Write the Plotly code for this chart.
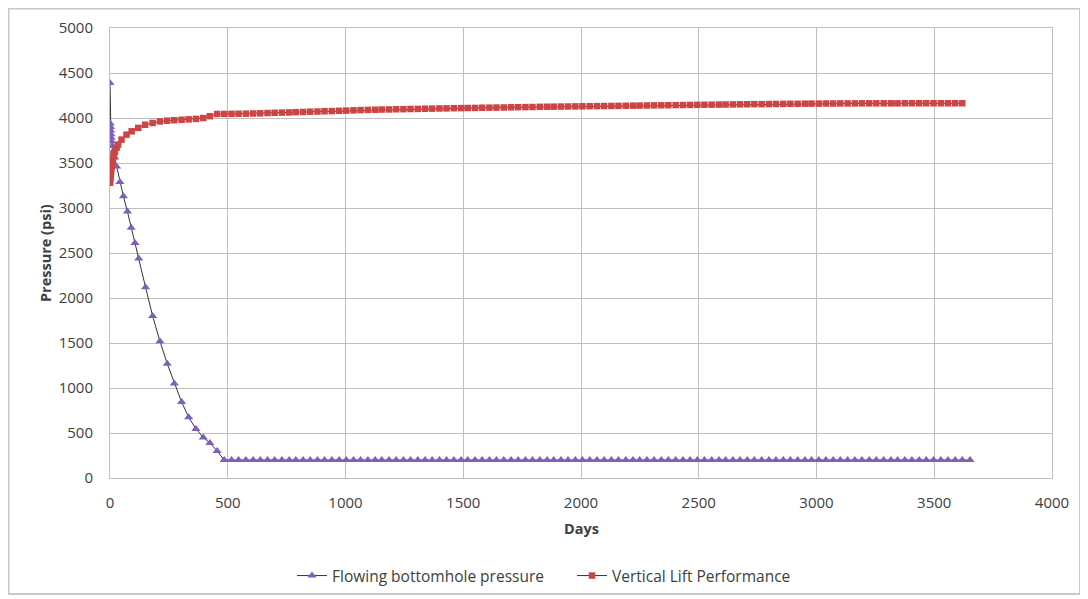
import plotly.graph_objects as go

# ---- data ----
fbhp_early_days = [0, 1, 2, 3, 4, 5, 7, 10, 14, 20, 28, 42, 57, 74, 90, 106, 122,
                   151, 181, 212, 243, 273, 304, 334, 365, 396, 424, 455]
fbhp_early_vals = [4390, 3940, 3900, 3860, 3820, 3780, 3740, 3690, 3630, 3560, 3460,
                   3290, 3130, 2960, 2780, 2610, 2440, 2120, 1800, 1520, 1270, 1050,
                   845, 675, 545, 450, 390, 300]

vlp_early_days = [0, 1, 2, 3, 4, 5, 6, 7, 9, 11, 14, 17, 21, 28, 35, 49, 70, 92, 120,
                  149, 181, 212, 243, 273, 304, 334, 365, 396, 424, 455]
vlp_early_vals = [3280, 3310, 3340, 3370, 3400, 3425, 3450, 3470, 3500, 3530, 3565,
                  3595, 3625, 3670, 3705, 3760, 3815, 3852, 3890, 3925, 3945, 3962,
                  3970, 3975, 3980, 3985, 3990, 4000, 4020, 4045]

monthly_days = [
    485, 516, 546, 577, 608, 638, 669, 699, 730,
    761, 789, 820, 850, 881, 911, 942, 973, 1003, 1034, 1064, 1095,
    1126, 1154, 1185, 1215, 1246, 1276, 1307, 1338, 1368, 1399, 1429, 1460,
    1491, 1519, 1550, 1580, 1611, 1641, 1672, 1703, 1733, 1764, 1794, 1825,
    1856, 1884, 1915, 1945, 1976, 2006, 2037, 2068, 2098, 2129, 2159, 2190,
    2221, 2249, 2280, 2310, 2341, 2371, 2402, 2433, 2463, 2494, 2524, 2555,
    2586, 2614, 2645, 2675, 2706, 2736, 2767, 2798, 2828, 2859, 2889, 2920,
    2951, 2979, 3010, 3040, 3071, 3101, 3132, 3163, 3193, 3224, 3254, 3285,
    3316, 3344, 3375, 3405, 3436, 3466, 3497, 3528, 3558, 3589, 3619,
]
fbhp_last_day = [3652]

fbhp_monthly_vals = [
    200, 200, 200, 200, 200, 200, 200, 200, 200,
    200, 200, 200, 200, 200, 200, 200, 200, 200, 200, 200, 200,
    200, 200, 200, 200, 200, 200, 200, 200, 200, 200, 200, 200,
    200, 200, 200, 200, 200, 200, 200, 200, 200, 200, 200, 200,
    200, 200, 200, 200, 200, 200, 200, 200, 200, 200, 200, 200,
    200, 200, 200, 200, 200, 200, 200, 200, 200, 200, 200, 200,
    200, 200, 200, 200, 200, 200, 200, 200, 200, 200, 200, 200,
    200, 200, 200, 200, 200, 200, 200, 200, 200, 200, 200, 200,
    200, 200, 200, 200, 200, 200, 200, 200, 200, 200, 200,
]
fbhp_last_val = [200]

vlp_monthly_vals = [
    4045, 4046, 4047, 4048, 4050, 4052, 4055, 4058, 4060,
    4062, 4065, 4067, 4070, 4072, 4075, 4077, 4080, 4082, 4085, 4088, 4090,
    4092, 4094, 4095, 4097, 4098, 4100, 4101, 4103, 4104, 4106, 4107, 4109,
    4110, 4111, 4112, 4114, 4115, 4116, 4117, 4119, 4120, 4121, 4122, 4124,
    4125, 4126, 4127, 4128, 4129, 4130, 4131, 4132, 4133, 4134, 4135, 4136,
    4137, 4138, 4139, 4140, 4141, 4142, 4143, 4144, 4145, 4146, 4147, 4148,
    4149, 4150, 4151, 4152, 4153, 4154, 4154, 4155, 4156, 4157, 4158, 4158,
    4159, 4160, 4160, 4161, 4161, 4162, 4162, 4162, 4163, 4163, 4163, 4163,
    4163, 4163, 4164, 4164, 4164, 4164, 4164, 4164, 4164, 4164, 4164,
]

x_ticks = [0, 500, 1000, 1500, 2000, 2500, 3000, 3500, 4000]
y_ticks = [0, 500, 1000, 1500, 2000, 2500, 3000, 3500, 4000, 4500, 5000]

fbhp_days = fbhp_early_days + monthly_days + fbhp_last_day
fbhp_vals = fbhp_early_vals + fbhp_monthly_vals + fbhp_last_val
vlp_days = vlp_early_days + monthly_days
vlp_vals = vlp_early_vals + vlp_monthly_vals

FONT = "'Open Sans', sans-serif"
TXT = "#404040"
GRID = "#bfbfbf"

fig = go.Figure()
fig.add_trace(go.Scatter(
    x=fbhp_days, y=fbhp_vals, mode="lines+markers",
    name="Flowing bottomhole pressure",
    line=dict(color="#333333", width=1),
    marker=dict(symbol="triangle-up", size=8, color="#7f5fb8",
                line=dict(width=0)),
))
fig.add_trace(go.Scatter(
    x=vlp_days, y=vlp_vals, mode="lines+markers",
    name="Vertical Lift Performance",
    line=dict(color="#333333", width=1),
    marker=dict(symbol="square", size=6.5, color="#cc4444",
                line=dict(width=0)),
))

# page body has an 8px offset: figure coords = screen coords - 8
W, H = 1080, 591
L, R, T, B = 102, 36, 20, 121
pw, ph = W - L - R, H - T - B

def px_x(p):
    return (p - L) / pw

def px_y(p):
    return (H - B - p) / ph

fig.update_layout(
    width=W, height=H,
    margin=dict(l=L, r=R, t=T, b=B, autoexpand=False),
    paper_bgcolor="white", plot_bgcolor="white",
    font=dict(family=FONT, size=14, color=TXT),
    showlegend=True,
    legend=dict(orientation="h", x=px_x(284), xanchor="left", y=px_y(568),
                yanchor="middle", font=dict(size=15.5, color=TXT),
                entrywidth=235, traceorder="normal"),
    xaxis=dict(
        range=[0, 4000], tickvals=x_ticks, ticktext=[str(v) for v in x_ticks],
        showgrid=True, gridcolor=GRID, gridwidth=1,
        showline=True, linecolor=GRID, linewidth=1, mirror=True,
        ticks="outside", ticklen=11, tickcolor="rgba(0,0,0,0)",
        zeroline=False, automargin=False,
        tickfont=dict(size=15, color=TXT),
    ),
    yaxis=dict(
        range=[0, 5000], tickvals=y_ticks, ticktext=[str(v) for v in y_ticks],
        showgrid=True, gridcolor=GRID, gridwidth=1,
        showline=True, linecolor=GRID, linewidth=1, mirror=True,
        ticks="outside", ticklen=13, tickcolor="rgba(0,0,0,0)",
        zeroline=False, automargin=False,
        tickfont=dict(size=15, color=TXT),
    ),
    annotations=[
        dict(text="<b>Days</b>", xref="paper", yref="paper",
             x=0.5, y=px_y(520), xanchor="center", yanchor="middle",
             showarrow=False, font=dict(size=14.5, color=TXT)),
        dict(text="<b>Pressure (psi)</b>", xref="paper", yref="paper",
             x=px_x(37), y=0.5, xanchor="center", yanchor="middle",
             textangle=-90, showarrow=False, font=dict(size=14.5, color=TXT)),
    ],
    shapes=[dict(type="rect", xref="paper", yref="paper",
                 x0=px_x(0.5), x1=px_x(1072), y0=px_y(586), y1=px_y(0.5),
                 line=dict(color="#c8c8c8", width=2), fillcolor="rgba(0,0,0,0)",
                 layer="below")],
)

fig.write_html("out.html")
